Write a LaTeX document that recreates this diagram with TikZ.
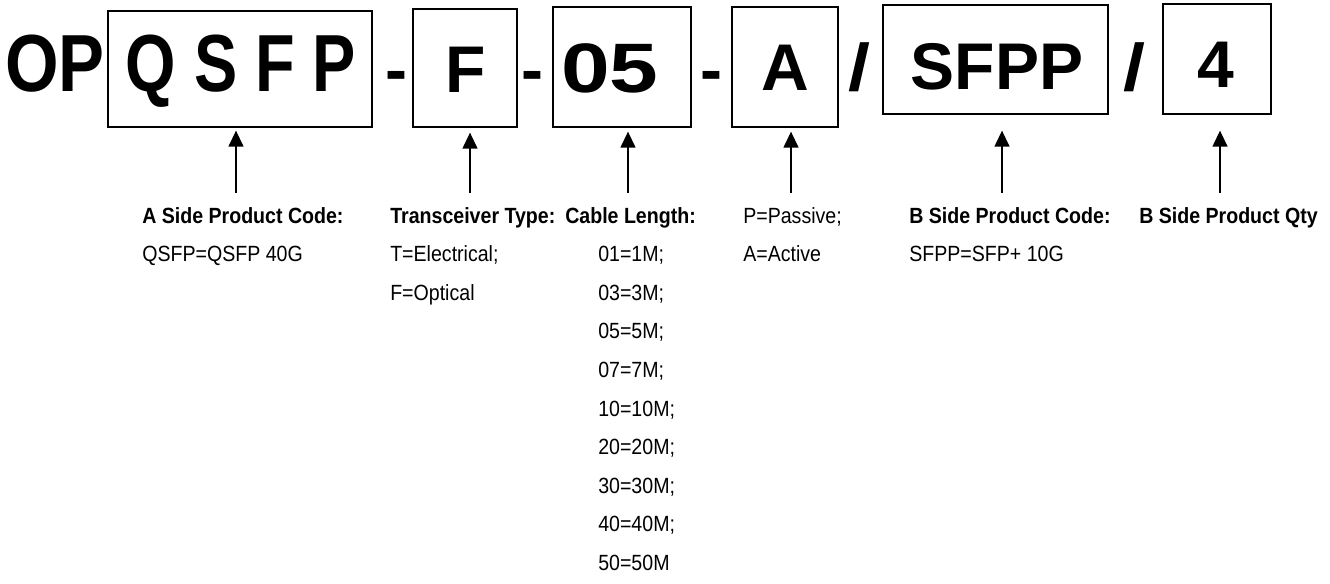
\documentclass[tikz,border=0pt]{standalone}
\usepackage{fontspec}
\setmainfont{Liberation Sans}
\newfontfamily\lblface[FakeStretch=0.89]{Liberation Sans}
\newfontfamily\codeface{Liberation Sans}
\newfontfamily\wideface[FakeStretch=1.25]{Liberation Sans}
\newfontfamily\slashface[FakeStretch=1.2]{Liberation Sans}
\newfontfamily\tightface[FakeStretch=0.8]{Liberation Sans}
\newfontfamily\opface[FakeStretch=0.85]{Liberation Sans}
\usetikzlibrary{arrows.meta}
\def\px{0.75pt}
\tikzset{
  codebox/.style={draw, line width=1pt, inner sep=0pt},
  bigcode/.style={inner sep=0pt, anchor=base, font={\fontsize{60.75pt}{62pt}\tightface\bfseries}},
  opcode/.style={inner sep=0pt, anchor=base, font={\fontsize{60.75pt}{62pt}\opface\bfseries}},
  midcode/.style={inner sep=0pt, anchor=base, font={\fontsize{49.5pt}{50pt}\codeface\bfseries}},
  slashcode/.style={inner sep=0pt, anchor=base, font={\fontsize{49.5pt}{50pt}\slashface\bfseries}},
  widecode/.style={inner sep=0pt, anchor=base, font={\fontsize{52.5pt}{54pt}\wideface\bfseries}},
  arrowup/.style={line width=1pt, -{Triangle[width=11.25pt,length=12pt]}},
  lbl/.style={anchor=base west, inner sep=0pt, font={\fontsize{16.5pt}{18pt}\lblface}},
  hdr/.style={anchor=base west, inner sep=0pt, font={\fontsize{16.5pt}{18pt}\lblface\bfseries}}
}
\begin{document}
\begin{tikzpicture}[x=\px, y=-\px]
\useasboundingbox (0,0) rectangle (1330,584);

% code boxes
\node[codebox, minimum width=264*\px, minimum height=116*\px] (boxQ) at (240,69) {};
\node[codebox, minimum width=104*\px, minimum height=118*\px] (boxF) at (465,68) {};
\node[codebox, minimum width=138*\px, minimum height=120*\px] (boxL) at (622,67) {};
\node[codebox, minimum width=106*\px, minimum height=120*\px] (boxA) at (785,67) {};
\node[codebox, minimum width=225*\px, minimum height=109*\px] (boxS) at (995.5,59.5) {};
\node[codebox, minimum width=108*\px, minimum height=110*\px] (boxN) at (1217,59) {};

% part number characters
\node[opcode]  (op)   at (55,92)   {OP};
\node[bigcode] (tQ)   at (241,92)  {Q S F P};
\node[midcode] (d1)   at (396,93)  {-};
\node[midcode] (tF)   at (466,93)  {F};
\node[midcode] (d2)   at (532,93)  {-};
\node[widecode] (tL)  at (610,93)  {05};
\node[midcode] (d3)   at (711,93)  {-};
\node[midcode] (tA)   at (785,91)  {A};
\node[slashcode] (s1) at (859,91)  {/};
\node[midcode] (tS)   at (997,90)  {SFPP};
\node[slashcode] (s2) at (1134,91) {/};
\node[midcode] (tN)   at (1216,88) {4};

% arrow tails
\coordinate (aQ) at (236,193);
\coordinate (aF) at (470,193);
\coordinate (aL) at (628,193);
\coordinate (aA) at (791,193);
\coordinate (aS) at (1002,193);
\coordinate (aN) at (1220,193);

\draw[arrowup, shorten >=3*\px]  (aQ) -- (aQ |- boxQ.south);
\draw[arrowup, shorten >=5*\px]  (aF) -- (aF |- boxF.south);
\draw[arrowup, shorten >=4*\px]  (aL) -- (aL |- boxL.south);
\draw[arrowup, shorten >=4*\px]  (aA) -- (aA |- boxA.south);
\draw[arrowup, shorten >=16*\px] (aS) -- (aS |- boxS.south);
\draw[arrowup, shorten >=16*\px] (aN) -- (aN |- boxN.south);

% descriptions
\node[hdr] (hA) at (142,223.5) {A Side Product Code:};
\node[lbl] (vA) at (142,262)   {QSFP=QSFP 40G};

\node[hdr] (hT)  at (390,223.5) {Transceiver Type:};
\node[lbl] (vT1) at (390,262)   {T=Electrical;};
\node[lbl] (vT2) at (390,300.5) {F=Optical};

\node[hdr] (hL)  at (565,223.5) {Cable Length:};
\node[lbl] (vL1) at (598,262)   {01=1M;};
\node[lbl] (vL2) at (598,300.5) {03=3M;};
\node[lbl] (vL3) at (598,339)   {05=5M;};
\node[lbl] (vL4) at (598,377.5) {07=7M;};
\node[lbl] (vL5) at (598,416)   {10=10M;};
\node[lbl] (vL6) at (598,454.5) {20=20M;};
\node[lbl] (vL7) at (598,493)   {30=30M;};
\node[lbl] (vL8) at (598,531.5) {40=40M;};
\node[lbl] (vL9) at (598,570)   {50=50M};

\node[lbl] (vP1) at (743,223.5) {P=Passive;};
\node[lbl] (vP2) at (743,262)   {A=Active};

\node[hdr] (hS) at (909,223.5) {B Side Product Code:};
\node[lbl] (vS) at (909,262)   {SFPP=SFP+ 10G};

\node[hdr] (hN) at (1139,223.5) {B Side Product Qty};
\end{tikzpicture}
\end{document}
